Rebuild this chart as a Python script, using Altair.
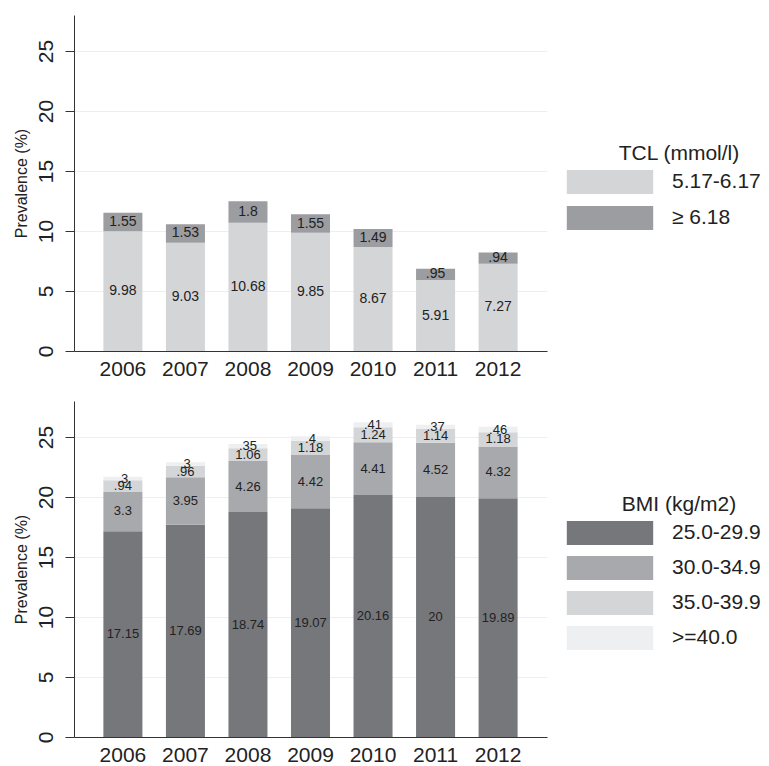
import altair as alt
import pandas as pd

years = ["2006", "2007", "2008", "2009", "2010", "2011", "2012"]

tcl_cats = ["5.17-6.17", "≥ 6.18"]
tcl_low = [9.98, 9.03, 10.68, 9.85, 8.67, 5.91, 7.27]
tcl_high = [1.55, 1.53, 1.8, 1.55, 1.49, 0.95, 0.94]
tcl_colors = ["#d4d5d7", "#9c9da1"]

bmi_cats = ["25.0-29.9", "30.0-34.9", "35.0-39.9", ">=40.0"]
bmi_25 = [17.15, 17.69, 18.74, 19.07, 20.16, 20.0, 19.89]
bmi_30 = [3.3, 3.95, 4.26, 4.42, 4.41, 4.52, 4.32]
bmi_35 = [0.94, 0.96, 1.06, 1.18, 1.24, 1.14, 1.18]
bmi_40 = [0.3, 0.3, 0.35, 0.4, 0.41, 0.37, 0.46]
bmi_colors = ["#76777b", "#a8a9ac", "#d4d5d7", "#eeeff1"]

y_ticks = [0, 5, 10, 15, 20, 25]


def fmt(v):
    s = f"{v:g}"
    if s.startswith("0."):
        s = s[1:]
    return s


def make_df(cats, series):
    rows = []
    for k, (cat, vals) in enumerate(zip(cats, series)):
        for yr, v in zip(years, vals):
            rows.append({"year": yr, "cat": cat, "value": v, "order": k, "label": fmt(v)})
    return pd.DataFrame(rows)


def panel(df, cats, colors, title, lx, ly, rp, fs):
    base = alt.Chart(df).transform_stack(
        stack="value", groupby=["year"], as_=["y0", "y1"],
        sort=[alt.SortField("order", order="ascending")]
    ).transform_calculate(mid="(datum.y0 + datum.y1) / 2")

    xenc = alt.X(
        "year:N", sort=years, title=None,
        scale=alt.Scale(paddingInner=0.376, paddingOuter=0.47),
        axis=alt.Axis(labelAngle=0, labelFontSize=21, ticks=False, labelPadding=7,
                      domainColor="#333333", labelColor="#222222", grid=False),
    )
    yscale = alt.Scale(domain=[0, 28], nice=False)
    bars = base.mark_bar().encode(
        x=xenc,
        y=alt.Y(
            "y0:Q", scale=yscale,
            axis=alt.Axis(values=y_ticks, title="Prevalence (%)", titleFontSize=16,
                          titleFontWeight="normal", titleColor="#222222",
                          labelFontSize=21, labelAngle=270, labelAlign="center",
                          labelBaseline="alphabetic", labelPadding=13, tickSize=9,
                          tickColor="#333333", domainColor="#333333",
                          gridColor="#eeeeee", labelColor="#222222", titlePadding=6),
        ),
        y2="y1:Q",
        color=alt.Color(
            "cat:N", scale=alt.Scale(domain=cats, range=colors),
            legend=alt.Legend(
                orient="none", legendX=lx, legendY=ly, title=title,
                titleFontSize=21, titleFontWeight="normal", titleColor="#222222",
                titleAnchor="middle", titlePadding=6,
                labelFontSize=21, labelColor="#222222", labelOffset=50,
                symbolType="M-3.6,-1H3.6V1H-3.6Z", symbolSize=576,
                symbolStrokeWidth=0, symbolOpacity=1, rowPadding=rp, padding=0,
            ),
        ),
    )
    text = base.mark_text(fontSize=fs, color="#222222").encode(
        x=alt.X("year:N", sort=years),
        y=alt.Y("mid:Q", scale=yscale),
        text="label:N",
    )
    return alt.layer(bars, text).properties(width=473, height=336)


top = panel(make_df(tcl_cats, [tcl_low, tcl_high]), tcl_cats, tcl_colors,
            "TCL (mmol/l)", 524, 128, 12, 14)
bottom = panel(make_df(bmi_cats, [bmi_25, bmi_30, bmi_35, bmi_40]), bmi_cats, bmi_colors,
               "BMI (kg/m2)", 524, 93, 11, 13)

chart = alt.vconcat(top, bottom, spacing=22).resolve_scale(
    color="independent", x="independent", y="independent"
).properties(
    padding={"left": 5, "top": 7, "right": 0, "bottom": 0}
).configure(font="Liberation Sans").configure_view(stroke=None)

chart.save("out.html", embed_options={"renderer": "svg", "actions": False})
